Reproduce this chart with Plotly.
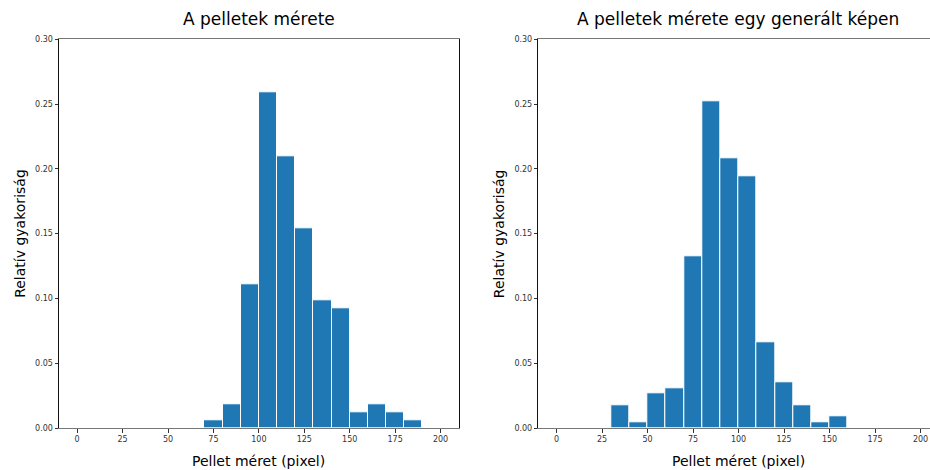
import plotly.graph_objects as go

# Histogram bins (left edges, 10 px wide) and relative frequencies
bins_real = [70, 80, 90, 100, 110, 120, 130, 140, 150, 160, 170, 180]
freq_real = [0.0062, 0.0185, 0.1111, 0.2593, 0.2099, 0.1543, 0.0988, 0.0926, 0.0123, 0.0185, 0.0123, 0.0062]

bins_gen = [30, 40, 50, 60, 70, 80, 90, 100, 110, 120, 130, 140, 150]
freq_gen = [0.0178, 0.0046, 0.0270, 0.0309, 0.1328, 0.2524, 0.2084, 0.1945, 0.0664, 0.0355, 0.0178, 0.0046, 0.0093]

titles = ["A pelletek mérete", "A pelletek mérete egy generált képen"]
x_title = "Pellet méret (pixel)"
y_title = "Relatív gyakoriság"
x_ticks = [0, 25, 50, 75, 100, 125, 150, 175, 200]
y_ticks = [0.0, 0.05, 0.10, 0.15, 0.20, 0.25, 0.30]

BIN_W = 10
BAR_COLOR = "#1f77b4"
FONT = "DejaVu Sans"

fig = go.Figure()

for i, (bins, freq) in enumerate([(bins_real, freq_real), (bins_gen, freq_gen)]):
    sfx = "" if i == 0 else "2"
    fig.add_trace(go.Bar(
        x=[b + BIN_W / 2 for b in bins],
        y=freq,
        width=BIN_W,
        marker=dict(color=BAR_COLOR, line=dict(color="white", width=1)),
        xaxis="x" + sfx,
        yaxis="y" + sfx,
        showlegend=False,
    ))

H = 470
W = 930
y_dom = [(H - 428) / H, (H - 39.3) / H]
x_doms = [[59 / W, 458.7 / W], [538.3 / W, 1.0]]
# the second panel runs past the right edge of the page, so its range is cut short
x_ranges = [[-10, 210], [-10, 205.2]]
# horizontal centres of each panel's full (uncut) width
panel_centres = [(59 + 458.7) / 2 / W, (538.3 + 938.0) / 2 / W]
ylabel_x = [19.2 / W, 498.5 / W]

tick_font = dict(family=FONT, size=8, color="#333")
layout = dict(
    width=W, height=H,
    margin=dict(l=0, r=0, t=0, b=0),
    paper_bgcolor="white", plot_bgcolor="white",
    bargap=0,
)

for i in range(2):
    sfx = "" if i == 0 else "2"
    layout["xaxis" + sfx] = dict(
        domain=x_doms[i], range=x_ranges[i], anchor="y" + sfx,
        tickvals=x_ticks, ticks="outside", ticklen=3.5, tickcolor="#333",
        showline=True, linecolor="#777", linewidth=1, mirror=True,
        showgrid=False, zeroline=False, tickfont=tick_font, automargin=False,
    )
    layout["yaxis" + sfx] = dict(
        domain=y_dom, range=[0, 0.30], anchor="x" + sfx,
        tickvals=y_ticks, ticktext=[f"{v:.2f}" for v in y_ticks],
        ticks="outside", ticklen=3.5, tickcolor="#333",
        showline=True, linecolor="#111", linewidth=1, mirror=True,
        showgrid=False, zeroline=False, tickfont=tick_font, automargin=False,
    )

fig.update_layout(**layout)

annotations = []
for i in range(2):
    cx = panel_centres[i]
    annotations.append(dict(
        text=titles[i], x=cx, y=1 - 19 / H, xref="paper", yref="paper",
        xanchor="center", yanchor="middle", showarrow=False,
        font=dict(family=FONT, size=17, color="black"),
    ))
    annotations.append(dict(
        text=x_title, x=cx, y=1 - 461 / H, xref="paper", yref="paper",
        xanchor="center", yanchor="middle", showarrow=False,
        font=dict(family=FONT, size=14, color="black"),
    ))
    annotations.append(dict(
        text=y_title, x=ylabel_x[i], y=(y_dom[0] + y_dom[1]) / 2, xref="paper", yref="paper",
        xanchor="center", yanchor="middle", showarrow=False, textangle=-90,
        font=dict(family=FONT, size=14, color="black"),
    ))
fig.update_layout(annotations=annotations)

fig.write_html("out.html")
